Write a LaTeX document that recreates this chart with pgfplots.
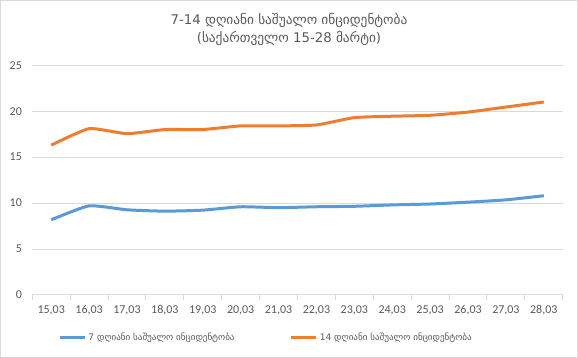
\documentclass[border=0pt]{standalone}
\usepackage{pgfplots}
\pgfplotsset{compat=1.18}
\usepackage{fontspec}
\setmainfont{Carlito}
\newfontfamily\geo{DejaVu Sans}
\definecolor{txt}{HTML}{595959}
\definecolor{gridc}{HTML}{D9D9D9}
\definecolor{sblue}{HTML}{5B9BD5}
\definecolor{sorange}{HTML}{ED7D31}
\begin{document}
\begin{tikzpicture}
\draw[gridc, fill=white] (0,0) rectangle (433.5pt,267.75pt);
\useasboundingbox (0,0) rectangle (433.5pt,267.75pt);
\node[txt, font=\geo\fontsize{10}{13.5}\selectfont, align=center] at (216.75pt,246pt) {7-14 დღიანი საშუალო ინციდენტობა\\(საქართველო 15-28 მარტი)};
\begin{axis}[
  at={(24pt,46.5pt)}, anchor=south west,
  scale only axis, width=398.25pt, height=172.5pt,
  xmin=-0.5, xmax=13.5, ymin=0, ymax=25,
  xtick={0,...,13},
  xticklabels={{15,03},{16,03},{17,03},{18,03},{19,03},{20,03},{21,03},{22,03},{23,03},{24,03},{25,03},{26,03},{27,03},{28,03}},
  minor xtick={-0.5,0.5,...,13.5},
  major x tick style={draw=none},
  minor x tick style={gridc, line width=0.75pt},
  minor tick length=4pt,
  tick align=outside,
  ytick={0,5,...,25},
  ytick style={draw=none},
  ymajorgrids, grid style={gridc, line width=0.75pt},
  axis line style={draw=none},
  axis x line*=bottom,
  x axis line style={draw=gridc, line width=0.75pt},
  ticklabel style={font=\fontsize{9}{11}\selectfont, text=txt},
  /pgf/number format/assume math mode=true,
  legend style={at={(0.049,-0.187)}, anchor=west, draw=none, inner sep=0pt, nodes={inner sep=1.5pt}, font=\geo\fontsize{6.8}{9}\selectfont, text=txt, legend columns=2, /tikz/every even column/.append style={column sep=40pt}},
  legend image code/.code={\draw[#1, line width=2.25pt] (0pt,0pt) -- (18.75pt,0pt);},
  clip=false,
]
\addplot[sblue, line width=2.25pt, smooth, tension=0.3] coordinates {(0,8.18) (1,9.7) (2,9.27) (3,9.12) (4,9.23) (5,9.6) (6,9.5) (7,9.6) (8,9.65) (9,9.8) (10,9.9) (11,10.1) (12,10.35) (13,10.8)};
\addlegendentry{7 დღიანი საშუალო ინციდენტობა}
\addplot[sorange, line width=2.25pt, smooth, tension=0.3] coordinates {(0,16.3) (1,18.1) (2,17.55) (3,18.0) (4,18.0) (5,18.4) (6,18.4) (7,18.5) (8,19.3) (9,19.45) (10,19.55) (11,19.9) (12,20.45) (13,21.0)};
\addlegendentry{14 დღიანი საშუალო ინციდენტობა}
\end{axis}
\end{tikzpicture}
\end{document}
